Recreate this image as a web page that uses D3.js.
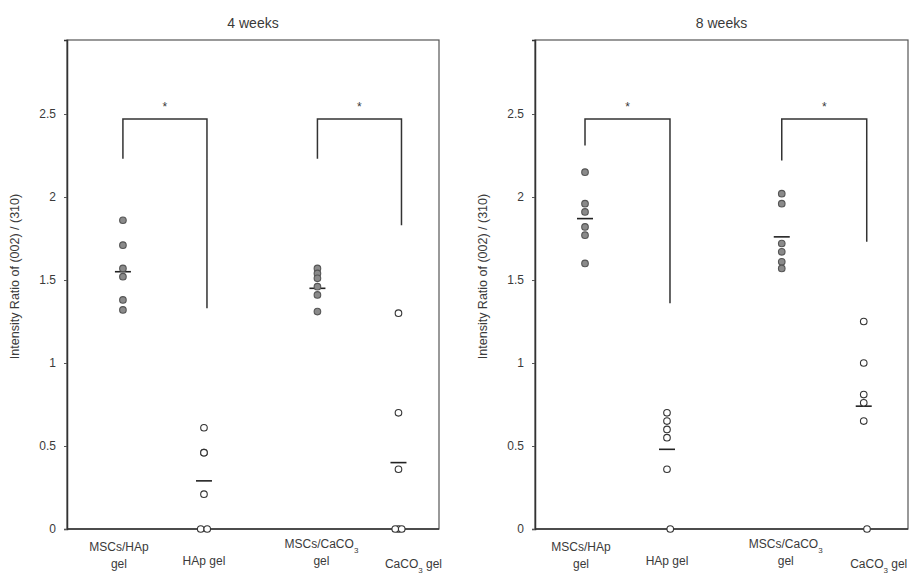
<!DOCTYPE html>
<html lang="en">
<head>
<meta charset="utf-8">
<title>Intensity ratio</title>
<script src="https://cdn.jsdelivr.net/npm/d3@7"></script>
<style>
  body { margin: 0; background: #fff; }
  text { font-family: "Liberation Sans", Arial, sans-serif; fill: #3a3a3a; }
</style>
</head>
<body>
<script>
// categories (x position in category units, as in the original plot)
var categories = ["MSCs/HAp gel", "HAp gel", "MSCs/CaCO3 gel", "CaCO3 gel"];
var catX = [1, 2, 3.4, 4.4];
var yTicks = [0, 0.5, 1, 1.5, 2, 2.5];

// 4 weeks
var w4_mscHAp = [1.86, 1.71, 1.57, 1.52, 1.38, 1.32];
var w4_HAp = [0.61, 0.46, 0.46, 0.21, 0, 0];
var w4_mscCaCO3 = [1.57, 1.54, 1.51, 1.46, 1.41, 1.31];
var w4_CaCO3 = [1.3, 0.7, 0.36, 0, 0, 0];
var w4_means = [1.55, 0.29, 1.45, 0.40];

// 8 weeks
var w8_mscHAp = [2.15, 1.96, 1.91, 1.82, 1.77, 1.6];
var w8_HAp = [0.7, 0.65, 0.6, 0.55, 0.36, 0];
var w8_mscCaCO3 = [2.02, 1.96, 1.72, 1.67, 1.61, 1.57];
var w8_CaCO3 = [1.25, 1.0, 0.81, 0.76, 0.65, 0];
var w8_means = [1.87, 0.48, 1.76, 0.74];

// small horizontal spread of overlapping points (category units)
var jitterZero = [0, 0, 0, 0, -0.04, 0.04];

// significance brackets: [from cat, to cat, top, left end, right end]
var w4_brackets = [[0, 1, 2.47, 2.23, 1.33], [2, 3, 2.47, 2.23, 1.83]];
var w8_brackets = [[0, 1, 2.47, 2.31, 1.36], [2, 3, 2.47, 2.22, 1.73]];

var panels = [
  { title: "4 weeks", left: 67, right: 439, xDomain: [0.31, 4.9],
    series: [w4_mscHAp, w4_HAp, w4_mscCaCO3, w4_CaCO3], means: w4_means, brackets: w4_brackets },
  { title: "8 weeks", left: 535, right: 908, xDomain: [0.39, 4.94],
    series: [w8_mscHAp, w8_HAp, w8_mscCaCO3, w8_CaCO3], means: w8_means, brackets: w8_brackets }
];

var plotTop = 40, plotBottom = 529;
var width = 919, height = 576;

var svg = d3.select("body").append("svg")
  .attr("width", width)
  .attr("height", height);

var yScale = d3.scaleLinear().domain([0, 2.946]).range([plotBottom, plotTop]);

panels.forEach(function(p) {
  var g = svg.append("g");
  var xScale = d3.scaleLinear().domain(p.xDomain).range([p.left, p.right]);

  // frame
  g.append("rect")
    .attr("x", p.left).attr("y", plotTop)
    .attr("width", p.right - p.left).attr("height", plotBottom - plotTop)
    .attr("fill", "none").attr("stroke", "#555").attr("stroke-width", 1.2);

  // y axis
  var yAxis = d3.axisLeft(yScale).tickValues(yTicks).tickSize(3).tickPadding(8)
    .tickFormat(function(d) { return d; });
  var ya = g.append("g").attr("transform", "translate(" + p.left + ",0)").call(yAxis);
  ya.select(".domain").attr("stroke", "#333").attr("stroke-width", 1.5);
  ya.selectAll(".tick line").attr("stroke", "#555");
  ya.selectAll(".tick text").style("font-size", "12px").attr("fill", "#3a3a3a")
    .style("font-family", "'Liberation Sans', Arial, sans-serif");

  // bottom axis line
  g.append("line")
    .attr("x1", p.left).attr("x2", p.right)
    .attr("y1", yScale(0)).attr("y2", yScale(0))
    .attr("stroke", "#333").attr("stroke-width", 1.5);

  // title
  g.append("text")
    .attr("x", (p.left + p.right) / 2).attr("y", 28)
    .attr("text-anchor", "middle").style("font-size", "14px")
    .text(p.title);

  // y label
  var ly = (plotTop + plotBottom) / 2 - 8;
  g.append("text")
    .attr("transform", "translate(" + (p.left - 48) + "," + ly + ") rotate(-90)")
    .attr("text-anchor", "middle").style("font-size", "12.5px")
    .text("Intensity Ratio of (002) / (310)");

  // category labels
  var labelDx = [-4, 0, 4, 15];
  var labelLines = [["MSCs/HAp", "gel"], ["HAp gel"], ["MSCs/CaCO3", "gel"], ["CaCO3 gel"]];
  var labelY = [551, 565, 548, 568];
  labelLines.forEach(function(lines, i) {
    lines.forEach(function(line, j) {
      var t = g.append("text")
        .attr("x", xScale(catX[i]) + labelDx[i])
        .attr("y", labelY[i] + j * 17)
        .attr("text-anchor", "middle")
        .style("font-size", "12px");
      var parts = line.split("CO3");
      if (parts.length > 1) {
        t.append("tspan").text(parts[0] + "CO");
        t.append("tspan").attr("baseline-shift", "sub").style("font-size", "8px").text("3");
        t.append("tspan").text(parts[1]);
      } else {
        t.text(line);
      }
    });
  });

  // brackets
  p.brackets.forEach(function(b) {
    var x1 = xScale(catX[b[0]]), x2 = xScale(catX[b[1]]) + 3;
    g.append("path")
      .attr("d", "M" + x1 + "," + yScale(b[3]) + "V" + yScale(b[2]) + "H" + x2 + "V" + yScale(b[4]))
      .attr("fill", "none").attr("stroke", "#333").attr("stroke-width", 1.5);
    g.append("text")
      .attr("x", (x1 + x2) / 2).attr("y", yScale(b[2]) - 8)
      .attr("text-anchor", "middle").style("font-size", "12px").attr("fill", "#666")
      .text("*");
  });

  // means
  g.selectAll(".mean").data(p.means).enter().append("line")
    .attr("class", "mean")
    .attr("x1", function(d, i) { return xScale(catX[i]) - 8; })
    .attr("x2", function(d, i) { return xScale(catX[i]) + 8; })
    .attr("y1", function(d) { return yScale(d); })
    .attr("y2", function(d) { return yScale(d); })
    .attr("stroke", "#222").attr("stroke-width", 1.6);

  // points
  p.series.forEach(function(vals, i) {
    var filled = (i === 0 || i === 2);
    g.selectAll(".pt" + i).data(vals).enter().append("circle")
      .attr("class", "pt" + i)
      .attr("cx", function(d, k) { return xScale(catX[i] + (d === 0 ? jitterZero[k] : 0)); })
      .attr("cy", function(d) { return yScale(d); })
      .attr("r", 3.3)
      .attr("fill", filled ? "#8a8a8a" : "#fff")
      .attr("stroke", filled ? "#555" : "#333")
      .attr("stroke-width", 1.1);
  });
});
</script>
</body>
</html>
